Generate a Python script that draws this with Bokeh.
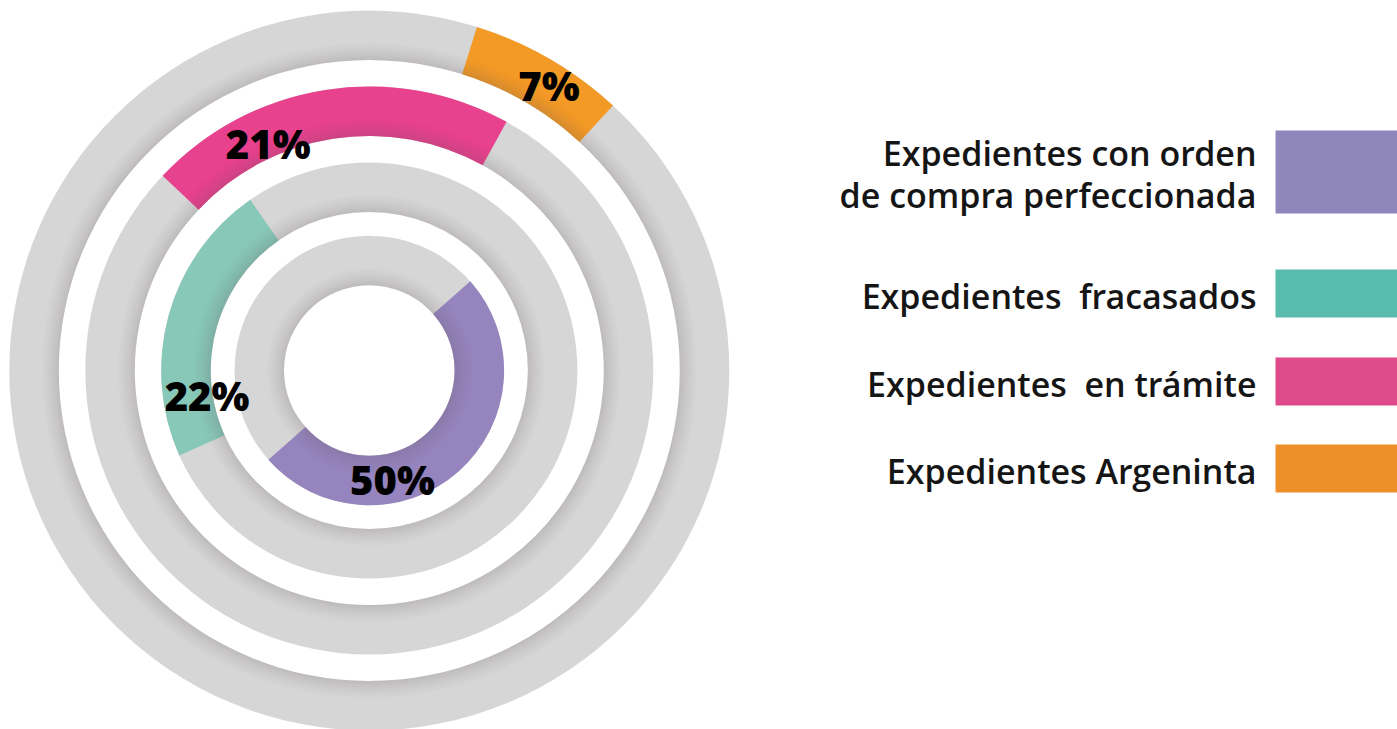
import numpy as np
from bokeh.plotting import figure
from bokeh.models import Range1d, ColumnDataSource
from bokeh.core.properties import value
from bokeh.embed import file_html
from bokeh.resources import INLINE

# ---------------- data ----------------
categories = [
    "Expedientes con orden\nde compra perfeccionada",
    "Expedientes  fracasados",
    "Expedientes  en trámite",
    "Expedientes Argeninta",
]
pct = [50, 22, 21, 7]

# ---------------- style ----------------
arc_colors = ["#9584BD", "#88C8B8", "#E8418E", "#F39A26"]
swatch_colors = ["#8F87BB", "#58BBAB", "#DF4A8A", "#EE9029"]
ring_gray = "#D6D6D6"

W, H = 1397, 729


def sy(y):
    return H - y


cx, cy = 368.8, sy(370)
ring_inner = [85.3, 158.6, 234.5, 310.5]   # innermost -> outermost
ring_width = 49.5
arc_mid_deg = [311.5, 164.5, 98.9, 60.0]    # where each ring's arc is centred
label_angle_deg = [-78.0, 188.6, 114.0, 57.8]
label_radius = [111.4, 164.1, 248.6, 337.0]
label_font_px = 40

legend_center_y = [171.5, 293, 381, 468]     # screen y of swatch centres
legend_text_right = 1256
swatch_left = 1275
legend_font_px = 34
line_gap = 42

p = figure(width=W, height=H, x_range=Range1d(0, W), y_range=Range1d(0, H),
           output_backend="svg", toolbar_location=None, min_border=0,
           x_axis_type=None, y_axis_type=None)
p.grid.visible = False
p.outline_line_color = None
p.background_fill_color = "white"
p.border_fill_color = "white"

n = len(pct)
# gray background rings
p.annulus(x=[cx] * n, y=[cy] * n, inner_radius=ring_inner,
          outer_radius=[r + ring_width for r in ring_inner],
          fill_color=ring_gray, line_color=None)

# coloured arcs, span proportional to the share
spans = [v / 100 * 360 for v in pct]
starts = [m - s / 2 for m, s in zip(arc_mid_deg, spans)]
ends = [m + s / 2 for m, s in zip(arc_mid_deg, spans)]
arc_src = ColumnDataSource(dict(x=[cx] * n, y=[cy] * n, ri=ring_inner,
                                ro=[r + ring_width for r in ring_inner],
                                s=starts, e=ends, c=arc_colors))
p.annular_wedge(x="x", y="y", inner_radius="ri", outer_radius="ro",
                start_angle="s", end_angle="e", start_angle_units="deg", end_angle_units="deg",
                direction="anticlock", fill_color="c", line_color=None, source=arc_src)

# soft inner shadow along the inner edge of every ring
sh_x, sh_y, sh_ri, sh_ro, sh_a = [], [], [], [], []
steps = 9
for r in ring_inner:
    for k in range(steps):
        sh_x.append(cx); sh_y.append(cy)
        sh_ri.append(r + 2 * k); sh_ro.append(r + 2 * k + 2)
        sh_a.append(0.19 * (1 - k / steps) ** 1.4)
p.annulus(x=sh_x, y=sh_y, inner_radius=sh_ri, outer_radius=sh_ro,
          fill_color="#5e4f58", fill_alpha=sh_a, line_color=None)

# percentage labels
lx = [cx + rr * np.cos(np.radians(a)) for rr, a in zip(label_radius, label_angle_deg)]
ly = [cy + rr * np.sin(np.radians(a)) for rr, a in zip(label_radius, label_angle_deg)]
p.text(x=lx, y=ly, text=[f"{v}%" for v in pct],
       text_font=value("'Open Sans ExtraBold', 'Open Sans'"),
       text_font_style="bold", text_font_size=f"{label_font_px}px", text_color="#000000",
       text_align="center", text_baseline="alphabetic")

# legend
tx, ty, tt = [], [], []
ql, qr, qt, qb = [], [], [], []
for cat, ycen in zip(categories, legend_center_y):
    lines = cat.split("\n")
    nl = len(lines)
    first = ycen + 2 - line_gap * (nl - 1) / 2
    for j, ln in enumerate(lines):
        tx.append(legend_text_right)
        ty.append(sy(first + j * line_gap))
        tt.append(ln.replace("  ", "\u00a0 "))
    hh = 48 + 35 * (nl - 1)
    ql.append(swatch_left); qr.append(W + 10)
    qt.append(sy(ycen - hh / 2)); qb.append(sy(ycen + hh / 2))

p.quad(left=ql, right=qr, top=qt, bottom=qb, fill_color=swatch_colors, line_color=None)
p.text(x=tx, y=ty, text=tt, text_font=value("'Open Sans SemiBold', 'Open Sans'"),
       text_font_size=f"{legend_font_px}px",
       text_color="#151515", text_align="right", text_baseline="alphabetic")

open("out.html", "w").write(file_html(p, INLINE))
